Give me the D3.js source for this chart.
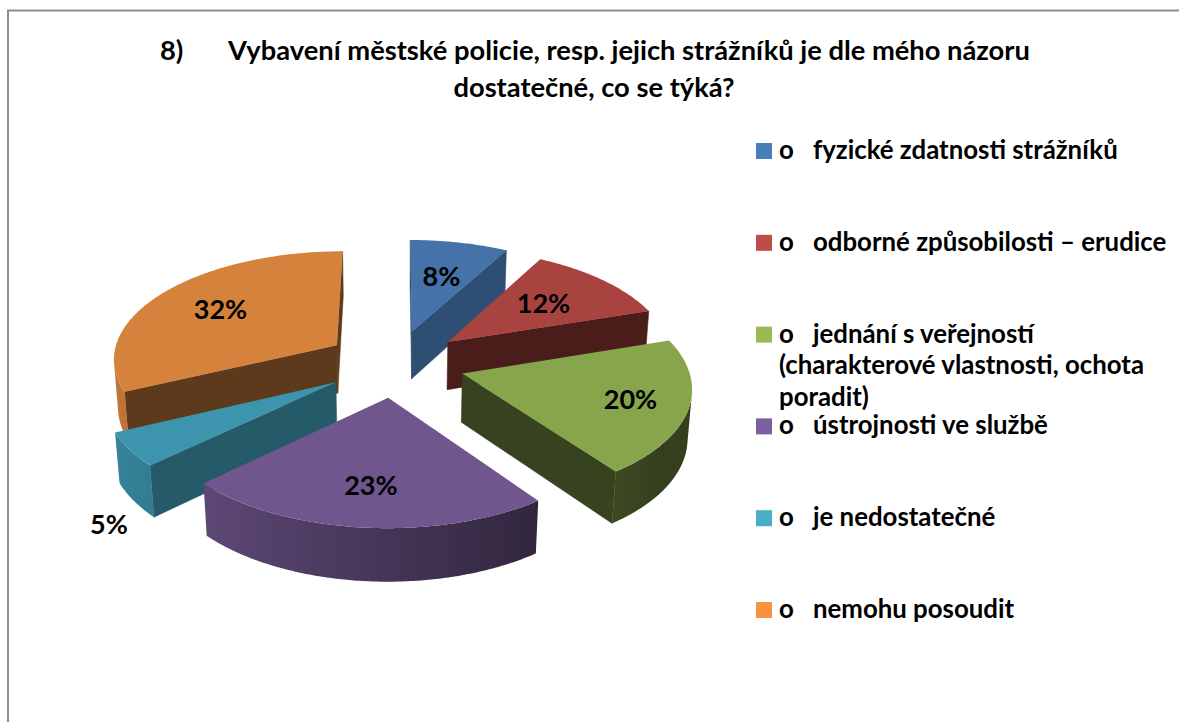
<!DOCTYPE html>
<html><head><meta charset="utf-8">
<script src="https://cdn.jsdelivr.net/npm/d3@7"></script>
<style>
body{margin:0;background:#fff;}
svg{display:block;}
text{font-family:Lato,"Open Sans",sans-serif;font-weight:bold;fill:#000;}
</style>
</head><body>
<svg id="c" width="1179" height="722"></svg>
<script>
// ---------- data ----------
const titleNumber = "8)";
const titleLines = ["Vybavení městské policie, resp. jejich strážníků je dle mého názoru",
                    "dostatečné, co se týká?"];
const bullet = "o";
const categories = [
  ["fyzické zdatnosti strážníků"],
  ["odborné způsobilosti – erudice"],
  ["jednání s veřejností", "(charakterové vlastnosti, ochota", "poradit)"],
  ["ústrojnosti ve službě"],
  ["je nedostatečné"],
  ["nemohu posoudit"]
];
const values = [8, 12, 20, 23, 5, 32];
const valueLabels = ["8%", "12%", "20%", "23%", "5%", "32%"];

// ---------- styles ----------
const topColors = ["#4572A8", "#A8433F", "#87A54B", "#6F568C", "#3D94AD", "#D5823C"];
const wallColors = ["#2F4E73", "#4A1C1A", "#37421F", "#2C2238", "#255B68", "#5E3A1C"];
const legendColors = ["#4A7EBB", "#BE4B48", "#98B954", "#7D60A0", "#4BACC6", "#F69240"];
const labelRadius = [0.6, 0.6, 0.75, 0.7, 1.12, 0.66];
const labelDrop = [0, 0, 0, 0, 1.3, 0];

const svg = d3.select("#c");
const defs = svg.append("defs");

// frame
svg.append("path").attr("d", "M8,722 L8,10.5 L1179,10.5")
  .attr("fill", "none").attr("stroke", "#8d8d8d").attr("stroke-width", 2);

// title
const t1 = svg.append("text").attr("y", 60).style("font-size", "27.3px");
t1.append("tspan").attr("x", 160).text(titleNumber);
t1.append("tspan").attr("x", 228).text(titleLines[0]);
svg.append("text").attr("x", 594).attr("y", 97).attr("text-anchor", "middle")
  .style("font-size", "27.3px").text(titleLines[1]);

// ---------- 3D pie ----------
const R = 225, DEPTH = 56, EXPLODE = 70, SIN = 0.48, COS = Math.sqrt(1 - SIN * SIN), DIST = 1800, CX = 395, CY = 363;
const cam = [0, DIST * SIN, DIST * COS];
function proj(X, Y, Z) {
  const d = Z * COS + Y * SIN;
  const k = DIST / (DIST - d);
  return [CX + X * k, CY + (Z * SIN - Y * COS) * k];
}
const arcs = d3.pie().sort(null).value(d => d)(values);
arcs.forEach((a, i) => {
  a.i = i;
  a.mid = (a.startAngle + a.endAngle) / 2;
  a.ox = EXPLODE * Math.sin(a.mid);
  a.oz = -EXPLODE * Math.cos(a.mid);
});
function world(a, ang, r, Y) {
  return [a.ox + r * Math.sin(ang), Y, a.oz - r * Math.cos(ang)];
}
function pt(a, ang, r, Y) { const w = world(a, ang, r, Y); return proj(w[0], w[1], w[2]); }
function visible(n, p) {
  return n[0] * (cam[0] - p[0]) + n[1] * (cam[1] - p[1]) + n[2] * (cam[2] - p[2]) > 0;
}
const line = d3.line();
function shade(col, f) {
  const c = d3.rgb(col);
  return d3.rgb(c.r * f, c.g * f, c.b * f).formatHex();
}

const order = arcs.slice().sort((a, b) => (-Math.cos(a.mid)) - (-Math.cos(b.mid)));
const gPie = svg.append("g");
order.forEach(a => {
  const g = gPie.append("g");
  // radial walls
  [[a.startAngle, -1], [a.endAngle, 1]].forEach(([ang, sgn]) => {
    const na = ang + sgn * Math.PI / 2;
    const n = [Math.sin(na), 0, -Math.cos(na)];
    const p = world(a, ang, R / 2, -DEPTH / 2);
    if (visible(n, p)) {
      g.append("path")
        .attr("d", line([pt(a, ang, 0, 0), pt(a, ang, R, 0), pt(a, ang, R, -DEPTH), pt(a, ang, 0, -DEPTH)]) + "Z")
        .attr("fill", wallColors[a.i]).attr("stroke", wallColors[a.i]).attr("stroke-width", 0.5);
    }
  });
  // curved outer wall: one path with a gradient
  const nSeg = Math.max(2, Math.ceil((a.endAngle - a.startAngle) / 0.01));
  const angs = [];
  for (let k = 0; k <= nSeg; k++) {
    const am = a.startAngle + (a.endAngle - a.startAngle) * k / nSeg;
    const n = [Math.sin(am), 0, -Math.cos(am)];
    if (visible(n, world(a, am, R, -DEPTH / 2))) angs.push(am);
  }
  if (angs.length > 1) {
    const topPts = angs.map(x => pt(a, x, R, 0));
    const botPts = angs.map(x => pt(a, x, R, -DEPTH)).reverse();
    const xs = topPts.map(p => p[0]);
    const xmin = d3.min(xs), xmax = d3.max(xs);
    const gid = "wall" + a.i;
    const grad = defs.append("linearGradient").attr("id", gid)
      .attr("gradientUnits", "userSpaceOnUse")
      .attr("x1", xmin).attr("x2", xmax).attr("y1", 0).attr("y2", 0);
    const stops = angs.map((x, k) => ({
      o: xmax > xmin ? (topPts[k][0] - xmin) / (xmax - xmin) : 0,
      c: shade(topColors[a.i], Math.max(0.38, Math.min(0.95, 0.62 - 0.3 * Math.sin(x))))
    })).sort((p, q) => p.o - q.o);
    stops.forEach(s => grad.append("stop").attr("offset", s.o).attr("stop-color", s.c));
    g.append("path").attr("d", line(topPts.concat(botPts)) + "Z")
      .attr("fill", "url(#" + gid + ")");
  }
  // top face
  const pts = [pt(a, a.mid, 0, 0)];
  const nTop = Math.ceil((a.endAngle - a.startAngle) / 0.01);
  for (let k = 0; k <= nTop; k++) {
    const ang = a.startAngle + (a.endAngle - a.startAngle) * k / nTop;
    pts.push(pt(a, ang, R, 0));
  }
  g.append("path").attr("d", line(pts) + "Z").attr("fill", topColors[a.i]);
});

// value labels
arcs.forEach(a => {
  const p = pt(a, a.mid, R * labelRadius[a.i], -DEPTH * labelDrop[a.i]);
  svg.append("text").attr("x", p[0]).attr("y", p[1]).attr("dy", "0.35em")
    .attr("text-anchor", "middle").style("font-size", "27px").text(valueLabels[a.i]);
});

// ---------- legend ----------
const LX = 756, LTOP = 143, LSTEP = 91.8, SQ = 16, LINEH = 31.5;
const LFONT = "25.8px";
categories.forEach((lines, i) => {
  const y = LTOP + i * LSTEP;
  svg.append("rect").attr("x", LX).attr("y", y).attr("width", SQ).attr("height", SQ).attr("fill", legendColors[i]);
  const tx = svg.append("text").attr("y", y + 16).style("font-size", LFONT);
  tx.append("tspan").attr("x", 779).text(bullet);
  tx.append("tspan").attr("x", 813).text(lines[0]);
  lines.slice(1).forEach((l, j) => {
    svg.append("text").attr("x", 779).attr("y", y + 16 + (j + 1) * LINEH).style("font-size", LFONT).text(l);
  });
});
</script>
</body></html>
